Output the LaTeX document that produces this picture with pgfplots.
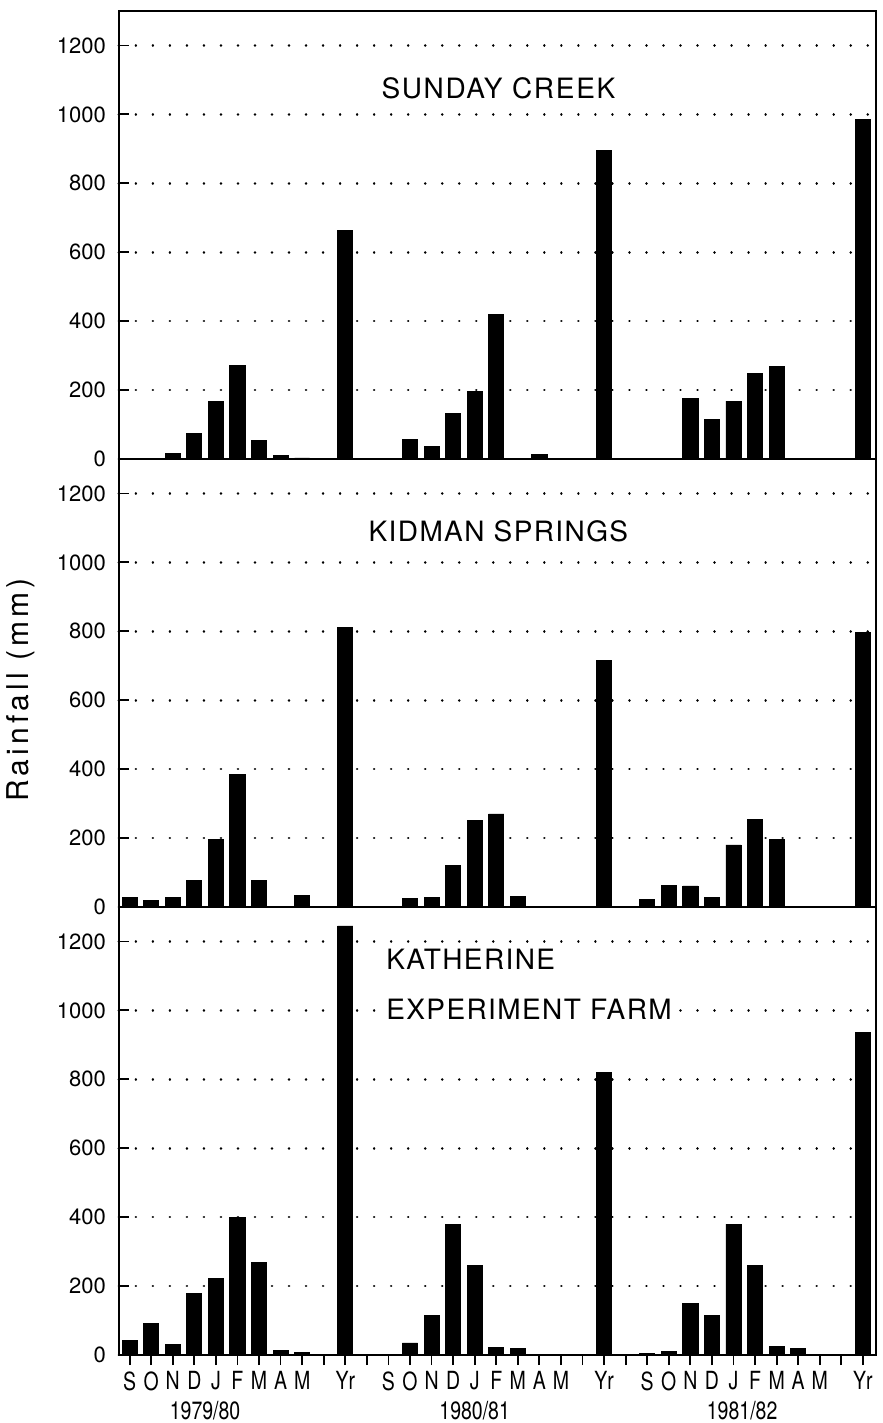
\documentclass[border=0pt]{standalone}
\usepackage{fontspec}
\setmainfont{TeX Gyre Heros}
\newfontfamily\narrowfont[FakeStretch=0.78]{TeX Gyre Heros}
\usepackage{pgfplots}
\pgfplotsset{compat=1.18}

\pgfplotsset{
  panel/.style={
    width=378.5pt, height=224pt, scale only axis,
    xmin=-0.5, xmax=34.6, ymin=0, ymax=1300,
    ytick={0,200,400,600,800,1000,1200},
    ymajorgrids,
    major grid style={black, line width=1.3pt, line cap=round, dash pattern=on 0.01pt off 8.5pt},
    axis line style={line width=1pt},
    every tick/.style={black, line width=0.9pt},
    major tick length=5pt,
    ytick align=inside,
    ytick pos=left,
    yticklabel style={font=\fontsize{11}{12}\selectfont, xshift=-3pt},
    /pgf/number format/assume math mode=true,
    /pgf/number format/1000 sep={},
    ybar, bar width=0.7,
    clip=false,
  },
}

\begin{document}
\begin{tikzpicture}
\begin{axis}[panel, name=top, xtick=\empty]
\addplot[fill=black, draw=black] coordinates {
 (0,0) (1,0) (2,15) (3,75) (4,168) (5,272) (6,54) (7,11) (8,3) (10,664)
 (12,0) (13,58) (14,37) (15,133) (16,195) (17,420) (18,0) (19,14) (20,0) (22,895)
 (24,0) (25,0) (26,176) (27,114) (28,168) (29,248) (30,268) (31,0) (32,0) (34,985)
};
\node[font=\fontsize{14}{16}\selectfont\addfontfeatures{LetterSpace=6}] at (axis cs:17.1,1077) {SUNDAY CREEK};
\end{axis}

\begin{axis}[panel, name=middle, at={(top.south west)}, anchor=north west, xtick=\empty]
\addplot[fill=black, draw=black] coordinates {
 (0,29) (1,19) (2,28) (3,78) (4,195) (5,385) (6,78) (7,0) (8,34) (10,810)
 (12,0) (13,24) (14,28) (15,120) (16,250) (17,270) (18,31) (19,0) (20,0) (22,715)
 (24,21) (25,63) (26,61) (27,27) (28,180) (29,255) (30,195) (31,0) (32,0) (34,797)
};
\node[font=\fontsize{14}{16}\selectfont\addfontfeatures{LetterSpace=5}] at (axis cs:17.1,1091) {KIDMAN SPRINGS};
\end{axis}

\begin{axis}[panel, name=bottom, at={(middle.south west)}, anchor=north west,
  xtick={0,1,...,34},
  xticklabels={S,O,N,D,J,F,M,A,M,,Yr,,S,O,N,D,J,F,M,A,M,,Yr,,S,O,N,D,J,F,M,A,M,,Yr},
  xtick align=outside, xtick pos=bottom,
  xticklabel style={font=\narrowfont\fontsize{12.5}{14}\selectfont, inner sep=1pt, yshift=-2pt}]
\addplot[fill=black, draw=black] coordinates {
 (0,42) (1,92) (2,30) (3,178) (4,223) (5,398) (6,268) (7,13) (8,8) (10,1245)
 (12,0) (13,35) (14,115) (15,379) (16,260) (17,23) (18,18) (19,0) (20,0) (22,820)
 (24,5) (25,10) (26,150) (27,115) (28,380) (29,261) (30,25) (31,20) (32,0) (34,937)
};
\node[font=\fontsize{14}{16}\selectfont\addfontfeatures{LetterSpace=5}, anchor=west, fill=white, inner sep=2pt] at (axis cs:11.7,1149) {KATHERINE};
\node[font=\fontsize{14}{16}\selectfont\addfontfeatures{LetterSpace=5}, anchor=west, fill=white, inner sep=2pt] at (axis cs:11.7,1004) {EXPERIMENT FARM};
\node[font=\narrowfont\fontsize{12.5}{14}\selectfont, inner sep=0pt, anchor=base] at ([yshift=-32pt]axis cs:3.5,0) {1979/80};
\node[font=\narrowfont\fontsize{12.5}{14}\selectfont, inner sep=0pt, anchor=base] at ([yshift=-32pt]axis cs:16,0) {1980/81};
\node[font=\narrowfont\fontsize{12.5}{14}\selectfont, inner sep=0pt, anchor=base] at ([yshift=-32pt]axis cs:28.4,0) {1981/82};
\end{axis}

\node[rotate=90, font=\fontsize{15}{17}\selectfont\addfontfeatures{LetterSpace=14}] at ([xshift=-49pt,yshift=-3.5pt]middle.west) {Rainfall (mm)};

\path[use as bounding box] ([xshift=-59pt,yshift=5.5pt]top.north west) rectangle ([xshift=3.5pt,yshift=-34pt]bottom.south east);
\end{tikzpicture}
\end{document}
